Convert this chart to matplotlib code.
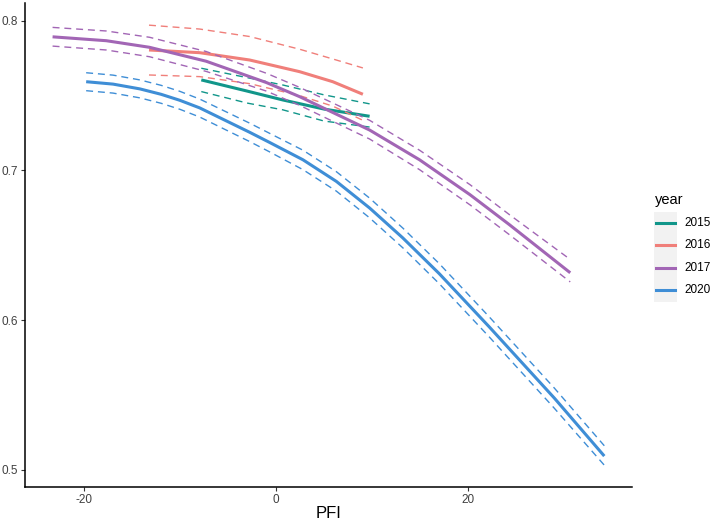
import matplotlib
matplotlib.use("Agg")
import matplotlib.pyplot as plt
from matplotlib.lines import Line2D
from matplotlib.patches import Rectangle

plt.rcParams["font.family"] = ["Liberation Sans", "DejaVu Sans"]

# fitted curves with confidence bands
years = ["2015", "2016", "2017", "2020"]
colors = ["#11968A", "#F07F7A", "#A266B5", "#3F8ED6"]

pfi_2015 = [-7.8, -3.0, 0.7, 5.0, 9.74]
fit_2015 = [0.7605, 0.7530, 0.7471, 0.7410, 0.7362]
upr_2015 = [0.7683, 0.7620, 0.7571, 0.7505, 0.7445]
lwr_2015 = [0.7527, 0.7450, 0.7405, 0.7330, 0.7290]

pfi_2016 = [-13.25, -7.97, -2.76, 2.45, 5.9, 9.04]
fit_2016 = [0.7805, 0.7787, 0.7738, 0.7660, 0.7593, 0.7509]
upr_2016 = [0.7971, 0.7945, 0.7895, 0.7810, 0.7745, 0.7685]
lwr_2016 = [0.7638, 0.7627, 0.7580, 0.7500, 0.7430, 0.7335]

pfi_2017 = [-23.3, -17.7, -13.2, -7.3, -1.0, 2.45, 9.74, 14.95, 20.2, 24.3, 30.65]
fit_2017 = [0.7893, 0.7867, 0.7823, 0.7730, 0.7587, 0.7493, 0.7270, 0.7071, 0.6838, 0.6638, 0.6316]
upr_2017 = [0.7956, 0.7932, 0.7890, 0.7795, 0.7649, 0.7555, 0.7335, 0.7135, 0.6905, 0.6705, 0.6405]
lwr_2017 = [0.7831, 0.7805, 0.7760, 0.7662, 0.7530, 0.7435, 0.7210, 0.7005, 0.6770, 0.6571, 0.6255]

pfi_2020 = [-19.8, -17.0, -14.2, -12.0, -10.05, -7.97, -2.76, -0.68, 2.8, 6.27,
            9.74, 13.2, 17.0, 22.2, 29.0, 34.2]
fit_2020 = [0.7593, 0.7577, 0.7545, 0.7509, 0.7469, 0.7418, 0.7255, 0.7187, 0.7071, 0.6927,
            0.6749, 0.6549, 0.6310, 0.5955, 0.5478, 0.5091]
upr_2020 = [0.7653, 0.7637, 0.7605, 0.7569, 0.7529, 0.7477, 0.7316, 0.7248, 0.7135, 0.6992,
            0.6815, 0.6615, 0.6377, 0.6022, 0.5545, 0.5160]
lwr_2020 = [0.7533, 0.7517, 0.7485, 0.7449, 0.7409, 0.7357, 0.7193, 0.7124, 0.7005, 0.6862,
            0.6683, 0.6483, 0.6243, 0.5888, 0.5410, 0.5030]

series = [
    (pfi_2015, fit_2015, upr_2015, lwr_2015),
    (pfi_2016, fit_2016, upr_2016, lwr_2016),
    (pfi_2017, fit_2017, upr_2017, lwr_2017),
    (pfi_2020, fit_2020, upr_2020, lwr_2020),
]

xticks = [-20, 0, 20]
yticks = [0.5, 0.6, 0.7, 0.8]

fig = plt.figure(figsize=(7.14, 5.25), dpi=100)
ax = fig.add_axes([0.035, 0.072, 0.85, 0.922])

dash = (0, (5, 3.5))
for (x, fit, upr, lwr), c in zip(series, colors):
    ax.plot(x, upr, color=c, lw=1.0, ls=dash)
    ax.plot(x, lwr, color=c, lw=1.0, ls=dash)
    ax.plot(x, fit, color=c, lw=2.2, solid_capstyle="butt")

# ggplot-like expansion (5% each side)
xmin, xmax = -23.3, 34.2
ymin, ymax = 0.5030, 0.7971
dx, dy = (xmax - xmin) * 0.05, (ymax - ymin) * 0.05
ax.set_xlim(xmin - dx, xmax + dx)
ax.set_ylim(ymin - dy, ymax + dy)

ax.set_xticks(xticks)
ax.set_xticklabels([str(t) for t in xticks])
ax.set_yticks(yticks)
ax.set_yticklabels([f"{t:.1f}" for t in yticks])
ax.tick_params(direction="out", length=3, width=0.8, colors="#333333",
               labelsize=8.5, labelcolor="#404040", pad=2)
for s in ["top", "right"]:
    ax.spines[s].set_visible(False)
for s in ["left", "bottom"]:
    ax.spines[s].set_linewidth(1.1)
    ax.spines[s].set_color("black")
ax.set_xlabel("PFI", fontsize=12, labelpad=0)

# legend drawn in figure pixel coordinates
W, H = 714, 525
fig.text(655 / W, 1 - 200 / H, "year", fontsize=10.5, va="center", ha="left")
fig.patches.append(Rectangle((654 / W, 1 - 302 / H), 23 / W, 90 / H,
                             transform=fig.transFigure, facecolor="#F2F2F2",
                             edgecolor="none"))
key_y = [223, 245, 268, 290]
for yr, c, ky in zip(years, colors, key_y):
    fig.lines.append(Line2D([656 / W, 675 / W], [1 - ky / H, 1 - ky / H],
                            transform=fig.transFigure, color=c, lw=2.2))
    fig.text(684 / W, 1 - ky / H, yr, fontsize=8.5, va="center", ha="left")

fig.savefig("out.png", dpi=100)
